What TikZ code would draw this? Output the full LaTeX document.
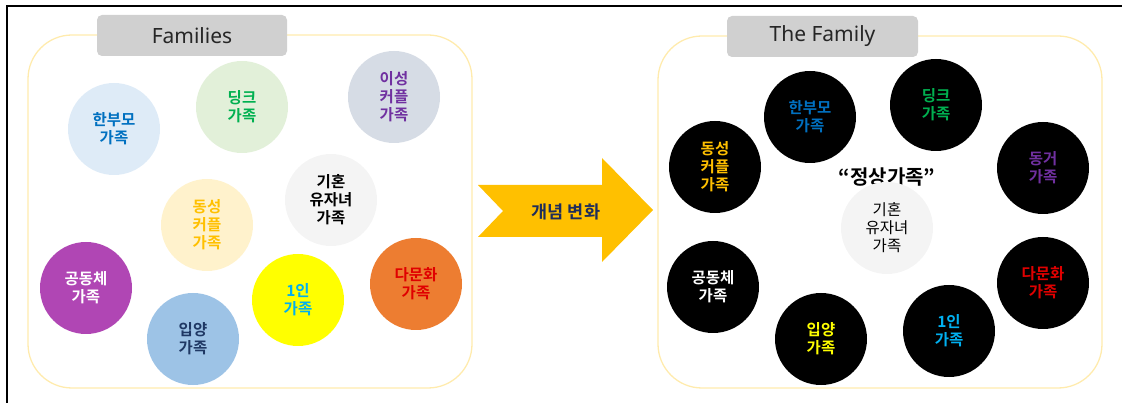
\documentclass[tikz,border=0pt]{standalone}
\usepackage{fontspec}
\setmainfont{Noto Sans CJK KR}
\newfontfamily\krb{Noto Sans CJK KR}[BoldFont={* Bold}]
\newfontfamily\lat{Noto Sans}
\usetikzlibrary{shapes.arrows}
\definecolor{panelline}{HTML}{FFE699}
\definecolor{labelgrey}{HTML}{D0D0D0}
\definecolor{cBlueTxt}{HTML}{0070C0}
\definecolor{cGreenTxt}{HTML}{00B050}
\definecolor{cPurpleTxt}{HTML}{7030A0}
\definecolor{cGoldTxt}{HTML}{FFC000}
\definecolor{cCyanTxt}{HTML}{00B0F0}
\definecolor{cRedTxt}{HTML}{E00000}
\definecolor{cNavyTxt}{HTML}{1F3864}
\definecolor{fBlue}{HTML}{DEEBF7}
\definecolor{fGreen}{HTML}{E2F0D9}
\definecolor{fGreyBlue}{HTML}{D6DCE5}
\definecolor{fGrey}{HTML}{F4F4F4}
\definecolor{fCream}{HTML}{FFF2CC}
\definecolor{fPurple}{HTML}{B046B4}
\definecolor{fSky}{HTML}{9DC3E6}
\definecolor{fYellow}{HTML}{FFFF00}
\definecolor{fOrange}{HTML}{ED7D31}
\definecolor{arrowgold}{HTML}{FFC000}
\definecolor{arrowtxt}{HTML}{1F2D5A}
\tikzset{
  fam/.style={circle, minimum size=92pt, inner sep=0pt, align=center,
    font=\krb\bfseries\fontsize{15.5}{18}\selectfont},
  panel/.style={draw=panelline!80, line width=1.3pt, rounded corners=44pt},
  tag/.style={fill=labelgrey, rounded corners=5pt, inner sep=0pt,
    font=\lat\fontsize{21}{24}\selectfont, text=black!85},
}
\begin{document}
\begin{tikzpicture}[x=1pt,y=-1pt]
\useasboundingbox (0,0) rectangle (1122,403);
% outer frame (top and left only)
\draw[line width=1.3pt] (1122,6) -- (7,6) -- (7,403);
% panels
\draw[panel] (28,35) rectangle (472,388);
\draw[panel] (658,36) rectangle (1102,388);
% tags
\node[tag, minimum width=190pt, minimum height=41pt] (t1) at (192,35.5) {Families};
\node[tag, minimum width=191pt, minimum height=41pt] (t2) at (822.5,36.5) {The Family};
% left circles
\node[fam, fill=fBlue, text=cBlueTxt] (l1) at (114,129) {한부모\\가족};
\node[fam, fill=fGreen, text=cGreenTxt] (l2) at (242,107) {딩크\\가족};
\node[fam, fill=fGreyBlue, text=cPurpleTxt] (l3) at (394,97) {이성\\커플\\가족};
\node[fam, fill=fGrey, text=black] (l4) at (331,200) {기혼\\유자녀\\가족};
\node[fam, fill=fCream, text=cGoldTxt] (l5) at (207,225) {동성\\커플\\가족};
\node[fam, fill=fPurple, text=white] (l6) at (86,288) {공동체\\가족};
\node[fam, fill=fSky, text=cNavyTxt] (l7) at (193,339) {입양\\가족};
\node[fam, fill=fYellow, text=cCyanTxt] (l8) at (298,300) {1인\\가족};
\node[fam, fill=fOrange, text=cRedTxt] (l9) at (416,284) {다문화\\가족};
% arrow
\fill[arrowgold] (478,185) -- (602,185) -- (602,158) -- (653,210) -- (602,262) -- (602,237) -- (478,237) -- (503,211) -- cycle;
\node[font=\krb\bfseries\fontsize{17.5}{20}\selectfont, text=arrowtxt] (ar) at (566,212) {개념 변화};
% right circles
\node[fam, fill=black, text=cBlueTxt] (r1) at (810,117) {한부모\\가족};
\node[fam, fill=black, text=cGreenTxt] (r2) at (936,105) {딩크\\가족};
\node[fam, fill=black, text=cGoldTxt] (r3) at (715,167) {동성\\커플\\가족};
\node[fam, fill=black, text=cPurpleTxt] (r4) at (1043,168) {동거\\가족};
\node[font=\krb\bfseries\fontsize{20}{23}\selectfont] (q) at (887,177) {“정상가족”};
\node[fam, fill=fGrey, text=black, font=\krb\fontsize{15.5}{18}\selectfont] (r5) at (887,228) {기혼\\유자녀\\가족};
\node[fam, fill=black, text=white] (r6) at (713,287) {공동체\\가족};
\node[fam, fill=black, text=fYellow] (r7) at (821,339) {입양\\가족};
\node[fam, fill=black, text=cCyanTxt] (r8) at (949,331) {1인\\가족};
\node[fam, fill=black, text=cRedTxt] (r9) at (1043,283) {다문화\\가족};
\end{tikzpicture}
\end{document}
